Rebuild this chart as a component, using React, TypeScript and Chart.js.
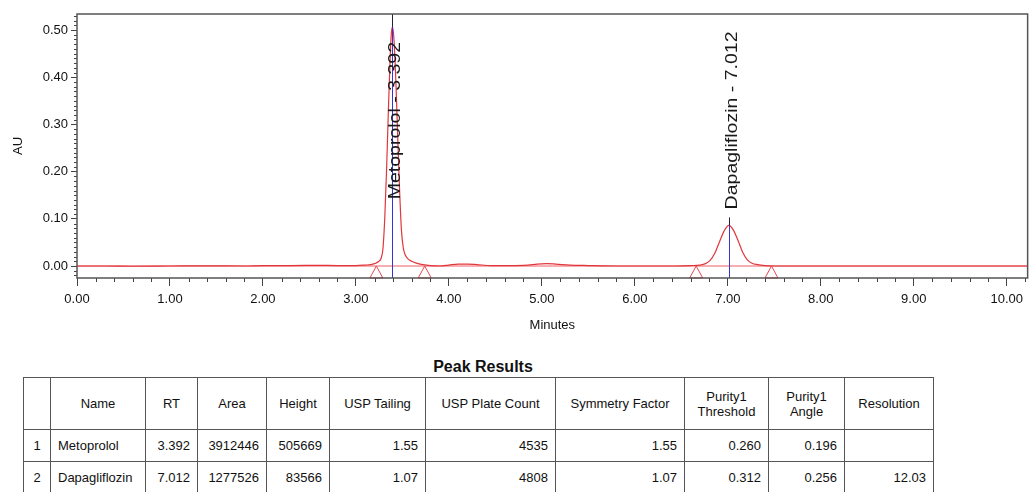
import React, { useEffect, useRef } from 'react';
import { Chart, registerables } from 'chart.js';

Chart.register(...registerables);

const FONT = '"Liberation Sans", Arial, sans-serif';

// Chromatogram trace (minutes, AU)
const timeMin = [
  0.0, 0.3, 0.6, 1.0, 1.4, 1.8, 2.0, 2.3, 2.6, 2.8, 3.0, 3.1, 3.16, 3.2, 3.24, 3.27,
  3.29, 3.31, 3.33, 3.35, 3.37, 3.38, 3.392, 3.4, 3.41, 3.43, 3.45, 3.47, 3.49, 3.51,
  3.53, 3.56, 3.6, 3.65, 3.72, 3.8, 3.9, 4.0, 4.1, 4.2, 4.3, 4.45, 4.65, 4.85, 4.95,
  5.05, 5.15, 5.3, 5.5, 5.8, 6.1, 6.4, 6.6, 6.7, 6.76, 6.81, 6.86, 6.91, 6.96, 7.012,
  7.06, 7.11, 7.16, 7.21, 7.26, 7.32, 7.4, 7.5, 8.0, 8.5, 9.0, 9.5, 10.0, 10.225,
];
const absorbanceAU = [
  0.0, 0.0, -0.0005, 0.0, 0.0005, 0.0, 0.001, 0.001, 0.0015, 0.001, 0.001, 0.002, 0.003, 0.005, 0.009, 0.016,
  0.035, 0.1, 0.205, 0.335, 0.45, 0.49, 0.506, 0.5, 0.478, 0.39, 0.272, 0.16, 0.075, 0.038,
  0.024, 0.015, 0.01, 0.006, 0.003, 0.001, 0.0, 0.002, 0.004, 0.004, 0.003, 0.001, 0.001, 0.002, 0.004,
  0.005, 0.004, 0.002, 0.001, 0.0, 0.0, 0.0, 0.001, 0.002, 0.005, 0.012, 0.027, 0.051, 0.074, 0.086,
  0.076, 0.054, 0.029, 0.013, 0.006, 0.003, 0.001, 0.0, 0.0, 0.0, 0.0, 0.0, 0.0, 0.0,
];

// Peaks
const peakNames = ['Metoprolol', 'Dapagliflozin'];
const peakRT = [3.392, 7.012];
const peakApexAU = [0.506, 0.086];
const peakStartMin = [3.22, 6.66];
const peakEndMin = [3.74, 7.47];

// Axis ranges
const xRange = [0, 10.225];
const yRange = [-0.0254, 0.534];

// Peak results table
const tableHeaders = ['', 'Name', 'RT', 'Area', 'Height', 'USP Tailing', 'USP Plate Count', 'Symmetry Factor', 'Purity1\nThreshold', 'Purity1\nAngle', 'Resolution'];
const resultIndex = ['1', '2'];
const resultNames = ['Metoprolol', 'Dapagliflozin'];
const resultRT = ['3.392', '7.012'];
const resultArea = ['3912446', '1277526'];
const resultHeight = ['505669', '83566'];
const resultTailing = ['1.55', '1.07'];
const resultPlates = ['4535', '4808'];
const resultSymmetry = ['1.55', '1.07'];
const resultPurThreshold = ['0.260', '0.312'];
const resultPurAngle = ['0.196', '0.256'];
const resultResolution = ['', '12.03'];

const colWidths = [27, 95, 52, 69, 63, 96, 130, 129, 84, 76, 89];

const overlayPlugin = {
  id: 'overlay',
  afterDatasetsDraw(chart: any) {
    const { ctx, chartArea, scales } = chart;
    const xs = scales.x;
    const ys = scales.y;
    ctx.save();
    // peak start / end triangles
    ctx.strokeStyle = '#e8484c';
    ctx.lineWidth = 1;
    const baseY = ys.getPixelForValue(0);
    [...peakStartMin, ...peakEndMin].forEach((t) => {
      const px = xs.getPixelForValue(t);
      ctx.beginPath();
      ctx.moveTo(px, baseY);
      ctx.lineTo(px - 6.5, chartArea.bottom);
      ctx.lineTo(px + 6.5, chartArea.bottom);
      ctx.closePath();
      ctx.stroke();
    });
    // retention time lines and labels
    ctx.font = '16px ' + FONT;
    peakRT.forEach((rt, i) => {
      const px = Math.round(xs.getPixelForValue(rt)) + 0.5;
      const apex = ys.getPixelForValue(peakApexAU[i]);
      const text = `${peakNames[i]} - ${rt.toFixed(3)}`;
      const len = ctx.measureText(text).width * 1.22;
      let labelBottom = apex - 16;
      if (labelBottom - len < chartArea.top + 10) labelBottom = chartArea.top + len + 28;
      ctx.lineWidth = 1;
      ctx.strokeStyle = '#3434d8';
      ctx.beginPath();
      ctx.moveTo(px, chartArea.bottom);
      ctx.lineTo(px, apex);
      ctx.stroke();
      ctx.strokeStyle = '#222244';
      ctx.beginPath();
      ctx.moveTo(px, apex);
      ctx.lineTo(px, labelBottom + 8 < apex ? labelBottom + 8 : chartArea.top);
      ctx.stroke();
      ctx.save();
      ctx.translate(px + 3, labelBottom);
      ctx.scale(1, 1.22);
      ctx.rotate(-Math.PI / 2);
      ctx.fillStyle = '#1a1a1a';
      ctx.textAlign = 'left';
      ctx.textBaseline = 'middle';
      ctx.fillText(text, 0, 0);
      ctx.restore();
    });
    ctx.restore();
  },
  afterDraw(chart: any) {
    const { ctx, chartArea, scales } = chart;
    const xs = scales.x;
    const ys = scales.y;
    ctx.save();
    ctx.strokeStyle = '#444';
    ctx.lineWidth = 1;
    // minor x ticks every 0.2 min
    for (let i = 0; i <= 51; i++) {
      if (i % 5 === 0) continue;
      const px = Math.round(xs.getPixelForValue(i / 5)) + 0.5;
      ctx.beginPath();
      ctx.moveTo(px, chartArea.bottom);
      ctx.lineTo(px, chartArea.bottom + 4);
      ctx.stroke();
    }
    // minor y ticks every 0.01 AU
    for (let i = -2; i <= 53; i++) {
      if (i % 10 === 0) continue;
      const py = Math.round(ys.getPixelForValue(i / 100)) + 0.5;
      ctx.beginPath();
      ctx.moveTo(chartArea.left - 3, py);
      ctx.lineTo(chartArea.left, py);
      ctx.stroke();
    }
    // frame
    ctx.strokeStyle = '#555';
    ctx.lineWidth = 1.5;
    ctx.strokeRect(chartArea.left, chartArea.top, chartArea.right - chartArea.left, chartArea.bottom - chartArea.top);
    ctx.restore();
  },
};

export default function App() {
  const canvasRef = useRef<HTMLCanvasElement | null>(null);

  useEffect(() => {
    document.body.style.margin = '0';
    const canvas = canvasRef.current;
    if (!canvas) return;
    const trace = timeMin.map((t, i) => ({ x: t, y: absorbanceAU[i] }));
    const chart = new Chart(canvas, {
      type: 'line',
      data: {
        datasets: [
          {
            data: trace,
            borderColor: '#e2363b',
            borderWidth: 1.2,
            pointRadius: 0,
            cubicInterpolationMode: 'monotone',
            fill: false,
          },
          {
            data: [
              { x: xRange[0], y: 0 },
              { x: xRange[1], y: 0 },
            ],
            borderColor: '#ec6066',
            borderWidth: 1,
            pointRadius: 0,
            fill: false,
          },
        ],
      },
      options: {
        responsive: false,
        animation: false,
        layout: { padding: { left: 0, right: 1, top: 14, bottom: 0 } },
        plugins: { legend: { display: false }, tooltip: { enabled: false } },
        scales: {
          x: {
            type: 'linear',
            min: xRange[0],
            max: xRange[1],
            ticks: {
              stepSize: 1,
              includeBounds: false,
              autoSkip: false,
              maxRotation: 0,
              padding: 6,
              color: '#111',
              font: { size: 13, family: FONT },
              callback: (v: any) => Number(v).toFixed(2),
            },
            grid: { drawOnChartArea: false, drawTicks: true, tickLength: 8, color: '#444' },
            border: { display: false },
            title: {
              display: true,
              text: 'Minutes',
              color: '#111',
              font: { size: 13, family: FONT },
              padding: { top: 0, bottom: 7 },
            },
            afterFit: (s: any) => {
              s.height = 62;
            },
          },
          y: {
            type: 'linear',
            min: yRange[0],
            max: yRange[1],
            ticks: {
              stepSize: 0.1,
              includeBounds: false,
              padding: 3,
              color: '#111',
              font: { size: 13, family: FONT },
              callback: (v: any) => Number(v).toFixed(2),
            },
            grid: { drawOnChartArea: false, drawTicks: true, tickLength: 6, color: '#444' },
            border: { display: false },
            title: {
              display: true,
              text: 'AU',
              color: '#111',
              font: { size: 13, family: FONT },
              padding: { top: 11, bottom: 0 },
            },
            afterFit: (s: any) => {
              s.width = 77;
            },
          },
        },
      },
      plugins: [overlayPlugin],
    } as any);
    return () => chart.destroy();
  }, []);

  const cell: React.CSSProperties = {
    border: '1px solid #555',
    fontSize: 13,
    color: '#111',
    padding: '0 7px',
    whiteSpace: 'nowrap',
    overflow: 'hidden',
  };
  const numCell: React.CSSProperties = { ...cell, textAlign: 'right' };
  const rows = resultIndex.map((idx, i) => [
    idx,
    resultNames[i],
    resultRT[i],
    resultArea[i],
    resultHeight[i],
    resultTailing[i],
    resultPlates[i],
    resultSymmetry[i],
    resultPurThreshold[i],
    resultPurAngle[i],
    resultResolution[i],
  ]);

  return (
    <div style={{ position: 'relative', width: 1029, height: 492, overflow: 'hidden', fontFamily: FONT, background: '#fff' }}>
      <canvas ref={canvasRef} width={1029} height={340} style={{ position: 'absolute', left: 0, top: 0, width: 1029, height: 340 }} />
      <div
        style={{
          position: 'absolute',
          left: 383,
          top: 357,
          width: 200,
          textAlign: 'center',
          fontSize: 16,
          fontWeight: 'bold',
          color: '#111',
          lineHeight: '20px',
        }}
      >
        Peak Results
      </div>
      <table
        style={{
          position: 'absolute',
          left: 23,
          top: 377,
          borderCollapse: 'collapse',
          tableLayout: 'fixed',
          width: colWidths.reduce((a, b) => a + b, 0),
        }}
      >
        <colgroup>
          {colWidths.map((w, i) => (
            <col key={i} style={{ width: w }} />
          ))}
        </colgroup>
        <thead>
          <tr style={{ height: 52 }}>
            {tableHeaders.map((h, i) => (
              <th key={i} style={{ ...cell, fontWeight: 'normal', textAlign: 'center', padding: 0, lineHeight: '15px' }}>
                {h.split('\n').map((line, j) => (
                  <div key={j}>{line}</div>
                ))}
              </th>
            ))}
          </tr>
        </thead>
        <tbody>
          {rows.map((r, ri) => (
            <tr key={ri} style={{ height: ri === 0 ? 32 : 31 }}>
              {r.map((v, ci) => (
                <td
                  key={ci}
                  style={ci === 0 ? { ...cell, textAlign: 'center', padding: 0 } : ci === 1 ? { ...cell, textAlign: 'left' } : numCell}
                >
                  {v}
                </td>
              ))}
            </tr>
          ))}
        </tbody>
      </table>
    </div>
  );
}
